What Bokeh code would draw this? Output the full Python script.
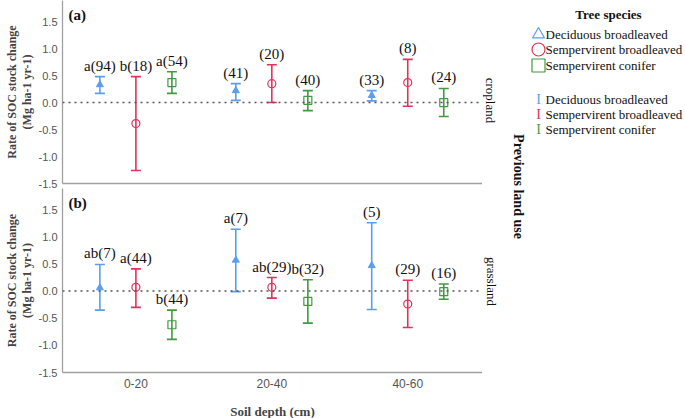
import numpy as np
from bokeh.plotting import figure
from bokeh.models import (ColumnDataSource, Whisker, TeeHead, Span, Label, Range1d,
                          FixedTicker, PrintfTickFormatter)
from bokeh.layouts import column, row
from bokeh.core.properties import value
from bokeh.embed import file_html
from bokeh.resources import INLINE

# ---------------- data ----------------
species = ["Deciduous broadleaved", "Sempervirent broadleaved", "Sempervirent conifer"]
depths = ["0-20", "20-40", "40-60"]
y_ticks = [-1.5, -1.0, -0.5, 0.0, 0.5, 1.0, 1.5]

# cropland (a)
crop_db_mean = [0.33, 0.22, 0.13]
crop_db_low = [0.17, 0.04, 0.03]
crop_db_up = [0.48, 0.35, 0.22]
crop_db_lab = ["a(94)", "(41)", "(33)"]

crop_sb_mean = [-0.39, 0.35, 0.37]
crop_sb_low = [-1.26, 0.00, -0.07]
crop_sb_up = [0.48, 0.70, 0.80]
crop_sb_lab = ["b(18)", "(20)", "(8)"]

crop_sc_mean = [0.37, 0.04, 0.00]
crop_sc_low = [0.17, -0.15, -0.26]
crop_sc_up = [0.57, 0.22, 0.26]
crop_sc_lab = ["a(54)", "(40)", "(24)"]

# grassland (b)
grass_db_mean = [0.06, 0.57, 0.47]
grass_db_low = [-0.35, -0.01, -0.34]
grass_db_up = [0.49, 1.14, 1.26]
grass_db_lab = ["ab(7)", "a(7)", "(5)"]

grass_sb_mean = [0.07, 0.07, -0.24]
grass_sb_low = [-0.30, -0.13, -0.67]
grass_sb_up = [0.41, 0.25, 0.20]
grass_sb_lab = ["a(44)", "ab(29)", "(29)"]

grass_sc_mean = [-0.62, -0.19, -0.01]
grass_sc_low = [-0.89, -0.59, -0.15]
grass_sc_up = [-0.35, 0.21, 0.13]
grass_sc_lab = ["b(44)", "b(32)", "(16)"]

# ---------------- style ----------------
colors = ["#5a9ef0", "#e2315c", "#3f9b3f"]
markers = ["triangle", "circle", "square"]
offsets = [-0.265, 0.0, 0.265]
SERIF_NAME = "Liberation Serif"
SERIF = value(SERIF_NAME)
X_LO, X_HI = -0.54, 2.55
Y_LO, Y_HI = -1.5, 1.89


def make_panel(series, tag, frame_h, bottom_axis):
    p = figure(frame_width=420, frame_height=frame_h, output_backend="svg",
               toolbar_location=None, x_range=Range1d(X_LO, X_HI),
               y_range=Range1d(Y_LO, Y_HI), min_border_left=62, min_border_right=0,
               min_border_top=0, min_border_bottom=46 if bottom_axis else 5)
    p.outline_line_color = None
    p.grid.visible = False
    p.background_fill_color = "white"

    p.yaxis.ticker = FixedTicker(ticks=y_ticks)
    p.yaxis.formatter = PrintfTickFormatter(format="%.1f")
    p.yaxis.major_tick_line_color = None
    p.yaxis.minor_tick_line_color = None
    p.yaxis.major_tick_out = 0
    p.yaxis.minor_tick_out = 0
    p.yaxis.major_label_standoff = 5
    p.yaxis.major_label_text_font = "Liberation Sans"
    p.yaxis.major_label_text_font_size = "11px"
    p.yaxis.major_label_text_color = "#555555"
    p.yaxis.axis_line_color = "#a0a0a0"
    p.yaxis.axis_line_width = 1.3
    p.yaxis.axis_label = "Rate of SOC stock change\n(Mg ha-1 yr-1)"
    p.yaxis.axis_label_text_font = SERIF_NAME
    p.yaxis.axis_label_text_font_style = "bold"
    p.yaxis.axis_label_text_font_size = "12px"
    p.yaxis.axis_label_text_line_height = 1.05
    p.yaxis.axis_label_standoff = 2

    p.xaxis.axis_line_color = "#a0a0a0"
    p.xaxis.axis_line_width = 1.3
    p.xaxis.major_tick_line_color = None
    p.xaxis.minor_tick_line_color = None
    p.xaxis.major_tick_out = 0
    p.xaxis.minor_tick_out = 0
    if bottom_axis:
        p.xaxis.ticker = FixedTicker(ticks=[0, 1, 2])
        p.xaxis.major_label_overrides = {i: d for i, d in enumerate(depths)}
        p.xaxis.major_label_text_font = "Liberation Sans"
        p.xaxis.major_label_text_font_size = "12px"
        p.xaxis.major_label_text_color = "#555555"
        p.xaxis.major_label_standoff = 6
        p.xaxis.axis_label = "Soil depth (cm)"
        p.xaxis.axis_label_text_font = SERIF_NAME
        p.xaxis.axis_label_text_font_style = "bold"
        p.xaxis.axis_label_text_font_size = "13px"
        p.xaxis.axis_label_standoff = 13
    else:
        p.xaxis.ticker = FixedTicker(ticks=[])
        p.xaxis.major_label_text_font_size = "0px"
        p.xaxis.major_label_standoff = 0

    p.add_layout(Span(location=0, dimension="width", line_color="#555555",
                      line_dash="2 4", line_width=1.5))

    for k, (mean, low, up, lab) in enumerate(series):
        xs = [i + offsets[k] for i in range(len(depths))]
        src = ColumnDataSource(dict(x=xs, mean=mean, lower=low, upper=up, label=lab))
        c = colors[k]
        p.add_layout(Whisker(source=src, base="x", upper="upper", lower="lower",
                             dimension="height", line_color=c, line_width=1.6,
                             upper_head=TeeHead(size=10, line_color=c, line_width=1.6),
                             lower_head=TeeHead(size=10, line_color=c, line_width=1.6)))
        if markers[k] == "triangle":
            p.scatter("x", "mean", source=src, marker="triangle", size=7,
                      fill_color=c, line_color=c, line_width=1)
        else:
            p.scatter("x", "mean", source=src, marker=markers[k], size=8,
                      fill_color="white", fill_alpha=0.0, line_color=c, line_width=1.2)
        p.text("x", "upper", text="label", source=src, text_align="center",
               text_baseline="bottom", y_offset=-3, text_font=SERIF,
               text_font_size="15px", text_color="#111111")

    p.add_layout(Label(x=X_LO, y=1.5, x_offset=6, y_offset=7, text=tag,
                       text_font=SERIF_NAME, text_font_style="bold",
                       text_font_size="15px", text_baseline="middle",
                       text_color="#111111"))
    return p


pa = make_panel([(crop_db_mean, crop_db_low, crop_db_up, crop_db_lab),
                 (crop_sb_mean, crop_sb_low, crop_sb_up, crop_sb_lab),
                 (crop_sc_mean, crop_sc_low, crop_sc_up, crop_sc_lab)],
                "(a)", 183, False)
pb = make_panel([(grass_db_mean, grass_db_low, grass_db_up, grass_db_lab),
                 (grass_sb_mean, grass_sb_low, grass_sb_up, grass_sb_lab),
                 (grass_sc_mean, grass_sc_low, grass_sc_up, grass_sc_lab)],
                "(b)", 184, True)

# ---------------- right side: land-use labels and legend ----------------
RW, RH = 203, 418
pr = figure(width=RW, height=RH, output_backend="svg", toolbar_location=None,
            x_range=Range1d(0, RW), y_range=Range1d(RH, 0),
            min_border=0, x_axis_type=None, y_axis_type=None)
pr.outline_line_color = None
pr.grid.visible = False

land_uses = ["cropland", "grassland"]
pr.text(x=[8, 9], y=[100, 281], text=land_uses, angle=-np.pi / 2,
        text_align="center", text_baseline="middle", text_font=SERIF,
        text_font_size="13px", text_color="#111111")
pr.text(x=[36], y=[186], text=["Previous land use"], angle=-np.pi / 2,
        text_align="center", text_baseline="middle", text_font=SERIF,
        text_font_style="bold", text_font_size="14px", text_color="#111111")

pr.text(x=[126], y=[14], text=["Tree species"], text_align="center",
        text_baseline="middle", text_font=SERIF, text_font_style="bold",
        text_font_size="13px", text_color="#111111")

mk_x, lab_x = 56, 63
row_y1 = [34, 49, 65]
row_y2 = [99, 114, 129]
for k in range(3):
    pr.scatter([mk_x], [row_y1[k]], marker=markers[k],
               size=12 if markers[k] == "triangle" else 13,
               fill_color=None, line_color=colors[k], line_width=1.2)
pr.text(x=[lab_x] * 3, y=row_y1, text=species, text_align="left",
        text_baseline="middle", text_font=SERIF, text_font_size="13px",
        text_color="#111111")
pr.text(x=[mk_x] * 3, y=row_y2, text=["I"] * 3, text_align="center",
        text_baseline="middle", text_font=SERIF, text_font_size="14px",
        text_color=colors)
pr.text(x=[lab_x] * 3, y=row_y2, text=species, text_align="left",
        text_baseline="middle", text_font=SERIF, text_font_size="13px",
        text_color="#111111")

layout = row(column(pa, pb), pr)
open("out.html", "w").write(file_html(layout, INLINE))
